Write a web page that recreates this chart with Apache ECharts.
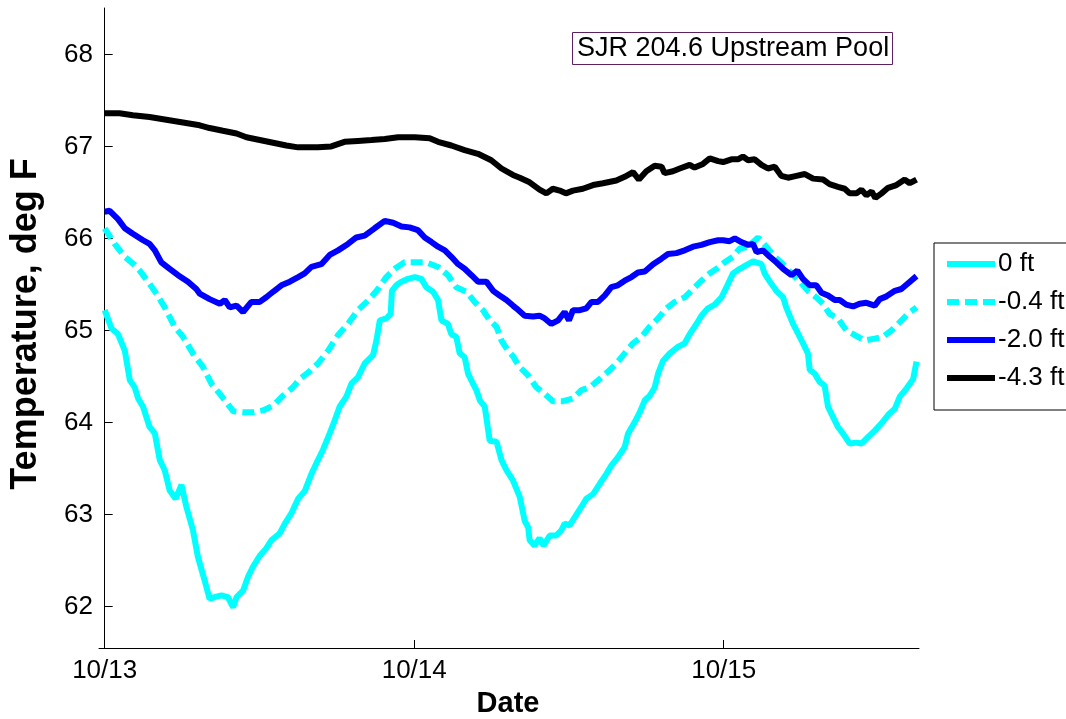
<!DOCTYPE html>
<html>
<head>
<meta charset="utf-8">
<script src="https://cdn.jsdelivr.net/npm/echarts@6/dist/echarts.min.js"></script>
<style>
html,body{margin:0;padding:0;background:#fff;}
#chart{width:1066px;height:719px;}
</style>
</head>
<body>
<div id="chart"></div>
<script>
// Time in days since 10/13 00:00
const xTickValues = [0, 1, 2];
const xTickLabels = ['10/13', '10/14', '10/15'];
const yTickValues = [62, 63, 64, 65, 66, 67, 68];
const seriesNames = ['0 ft', '-0.4 ft', '-2.0 ft', '-4.3 ft'];

const t0ft = [0.000,0.022,0.043,0.065,0.081,0.097,0.108,0.124,0.145,0.162,0.178,0.194,0.210,0.229,0.248,0.264,0.285,0.301,0.323,0.339,0.355,0.377,0.398,0.415,0.426,0.447,0.463,0.479,0.501,0.522,0.539,0.565,0.582,0.603,0.625,0.646,0.668,0.689,0.705,0.727,0.743,0.759,0.781,0.797,0.818,0.840,0.867,0.878,0.889,0.910,0.924,0.928,0.942,0.959,0.980,1.002,1.023,1.039,1.061,1.077,1.088,1.109,1.120,1.136,1.147,1.163,1.174,1.190,1.201,1.212,1.228,1.244,1.266,1.282,1.298,1.319,1.341,1.357,1.368,1.373,1.389,1.405,1.418,1.438,1.459,1.476,1.486,1.502,1.519,1.540,1.556,1.578,1.599,1.621,1.637,1.658,1.680,1.691,1.712,1.729,1.745,1.761,1.777,1.788,1.804,1.826,1.852,1.874,1.890,1.912,1.928,1.949,1.971,1.993,2.009,2.030,2.052,2.073,2.095,2.122,2.132,2.149,2.170,2.192,2.202,2.224,2.235,2.256,2.272,2.278,2.294,2.310,2.326,2.337,2.353,2.369,2.385,2.407,2.429,2.445,2.466,2.488,2.510,2.531,2.553,2.569,2.591,2.612,2.623];
const v0ft = [65.22,65.02,64.96,64.78,64.46,64.38,64.26,64.17,63.95,63.88,63.59,63.48,63.26,63.17,63.32,63.08,62.83,62.54,62.28,62.08,62.10,62.12,62.10,61.99,62.10,62.17,62.32,62.43,62.55,62.63,62.72,62.79,62.90,63.01,63.17,63.25,63.44,63.59,63.70,63.88,64.02,64.17,64.28,64.42,64.49,64.64,64.73,64.89,65.11,65.13,65.18,65.43,65.49,65.53,65.56,65.58,65.56,65.47,65.42,65.33,65.11,65.07,64.96,64.93,64.75,64.71,64.53,64.42,64.35,64.24,64.17,63.80,63.79,63.59,63.48,63.37,63.19,62.93,62.86,62.72,62.66,62.74,62.66,62.77,62.77,62.83,62.90,62.88,62.97,63.08,63.17,63.22,63.33,63.44,63.53,63.62,63.73,63.88,64.00,64.11,64.24,64.29,64.38,64.53,64.67,64.75,64.82,64.86,64.96,65.07,65.16,65.24,65.28,65.36,65.47,65.62,65.67,65.71,65.75,65.72,65.62,65.53,65.43,65.36,65.25,65.07,65.00,64.86,64.75,64.57,64.53,64.44,64.40,64.17,64.06,63.95,63.88,63.77,63.78,63.77,63.84,63.91,63.99,64.08,64.15,64.28,64.37,64.47,64.66];

const t04ft = [0.000,0.032,0.065,0.097,0.113,0.140,0.167,0.194,0.226,0.253,0.285,0.318,0.345,0.372,0.393,0.415,0.447,0.479,0.511,0.544,0.576,0.608,0.630,0.657,0.689,0.722,0.754,0.786,0.818,0.856,0.883,0.910,0.937,0.969,1.002,1.039,1.077,1.109,1.136,1.169,1.195,1.222,1.244,1.266,1.282,1.303,1.319,1.341,1.368,1.395,1.422,1.448,1.481,1.513,1.540,1.567,1.599,1.632,1.653,1.680,1.707,1.734,1.761,1.788,1.815,1.842,1.874,1.901,1.928,1.955,1.982,2.003,2.030,2.052,2.079,2.111,2.138,2.165,2.192,2.219,2.246,2.272,2.299,2.321,2.342,2.369,2.396,2.423,2.456,2.488,2.515,2.542,2.569,2.595,2.623];
const v04ft = [66.11,65.94,65.80,65.71,65.65,65.53,65.40,65.25,65.04,64.93,64.75,64.60,64.42,64.31,64.22,64.12,64.11,64.11,64.13,64.18,64.29,64.38,64.47,64.54,64.64,64.78,64.95,65.07,65.22,65.34,65.45,65.58,65.67,65.74,65.74,65.74,65.69,65.60,65.47,65.42,65.31,65.22,65.11,65.04,64.89,64.78,64.72,64.60,64.51,64.38,64.31,64.23,64.23,64.26,64.35,64.38,64.47,64.57,64.64,64.75,64.86,64.93,65.04,65.13,65.24,65.31,65.36,65.45,65.54,65.62,65.68,65.74,65.80,65.89,65.91,66.01,65.91,65.80,65.72,65.62,65.53,65.43,65.36,65.29,65.18,65.13,65.00,64.95,64.89,64.91,64.93,65.00,65.09,65.18,65.25];

const t20ft = [0.000,0.016,0.043,0.065,0.091,0.124,0.145,0.162,0.183,0.210,0.237,0.269,0.296,0.307,0.339,0.372,0.388,0.404,0.426,0.447,0.474,0.501,0.522,0.544,0.571,0.598,0.625,0.646,0.668,0.700,0.727,0.754,0.786,0.813,0.840,0.872,0.905,0.932,0.959,0.985,1.012,1.034,1.056,1.077,1.099,1.120,1.142,1.163,1.185,1.206,1.233,1.255,1.276,1.298,1.319,1.330,1.357,1.384,1.405,1.422,1.443,1.465,1.486,1.500,1.513,1.535,1.556,1.573,1.594,1.616,1.637,1.658,1.680,1.702,1.723,1.745,1.772,1.799,1.820,1.847,1.874,1.901,1.928,1.955,1.982,1.998,2.019,2.036,2.057,2.079,2.095,2.106,2.127,2.149,2.170,2.192,2.219,2.238,2.256,2.278,2.299,2.316,2.337,2.359,2.375,2.396,2.418,2.439,2.461,2.488,2.504,2.526,2.553,2.574,2.595,2.623];
const v20ft = [66.29,66.30,66.21,66.11,66.05,65.98,65.94,65.87,65.74,65.67,65.60,65.53,65.45,65.40,65.34,65.29,65.33,65.25,65.27,65.20,65.31,65.31,65.36,65.42,65.49,65.53,65.58,65.62,65.69,65.72,65.82,65.87,65.94,66.01,66.03,66.11,66.19,66.17,66.13,66.12,66.09,66.01,65.96,65.91,65.87,65.80,65.72,65.67,65.60,65.53,65.53,65.43,65.38,65.33,65.27,65.24,65.16,65.15,65.16,65.13,65.07,65.11,65.20,65.11,65.22,65.22,65.24,65.31,65.31,65.38,65.47,65.49,65.54,65.58,65.63,65.64,65.72,65.78,65.83,65.84,65.87,65.91,65.93,65.96,65.98,65.98,65.97,66.00,65.96,65.93,65.94,65.85,65.87,65.80,65.74,65.67,65.60,65.65,65.56,65.49,65.49,65.41,65.38,65.33,65.33,65.28,65.26,65.29,65.30,65.27,65.34,65.37,65.43,65.45,65.51,65.59];

const t43ft = [0.000,0.048,0.091,0.145,0.199,0.253,0.307,0.339,0.382,0.426,0.458,0.501,0.544,0.587,0.625,0.689,0.732,0.775,0.818,0.862,0.905,0.948,1.002,1.050,1.077,1.120,1.163,1.206,1.249,1.282,1.319,1.341,1.373,1.405,1.427,1.448,1.470,1.490,1.513,1.545,1.578,1.610,1.653,1.680,1.707,1.726,1.750,1.777,1.799,1.809,1.836,1.858,1.890,1.906,1.933,1.955,1.982,1.998,2.025,2.046,2.062,2.079,2.100,2.122,2.143,2.165,2.186,2.208,2.235,2.262,2.289,2.321,2.342,2.369,2.391,2.407,2.429,2.445,2.461,2.478,2.490,2.510,2.531,2.558,2.585,2.601,2.623];
const v43ft = [67.36,67.36,67.34,67.32,67.29,67.26,67.23,67.20,67.17,67.14,67.10,67.07,67.04,67.01,66.99,66.99,67.00,67.05,67.06,67.07,67.08,67.10,67.10,67.09,67.05,67.01,66.96,66.92,66.85,66.76,66.69,66.66,66.61,66.53,66.49,66.54,66.52,66.49,66.52,66.54,66.58,66.60,66.63,66.67,66.72,66.64,66.73,66.79,66.78,66.71,66.73,66.76,66.80,66.77,66.81,66.87,66.84,66.83,66.86,66.86,66.89,66.85,66.86,66.80,66.76,66.78,66.68,66.66,66.68,66.70,66.65,66.64,66.59,66.56,66.54,66.49,66.49,66.53,66.47,66.51,66.44,66.49,66.55,66.58,66.64,66.60,66.64];

function pairs(t, v) { return t.map((x, i) => [x, v[i]]); }

const FONT = '"Liberation Sans", Arial, sans-serif';
const chart = echarts.init(document.getElementById('chart'), null, {renderer: 'canvas'});

const lineSeries = (name, t, v, color, type) => ({
  name: name,
  type: 'line',
  data: pairs(t, v),
  symbol: 'none',
  showSymbol: false,
  smooth: false,
  animation: false,
  clip: true,
  lineStyle: {color: color, width: 6, type: type},
  itemStyle: {color: color}
});

chart.setOption({
  backgroundColor: '#ffffff',
  animation: false,
  title: {
    text: 'SJR 204.6 Upstream Pool',
    left: 572,
    top: 32,
    padding: [2, 4, 2, 5],
    borderColor: '#5e2060',
    borderWidth: 1,
    backgroundColor: '#ffffff',
    textStyle: {fontFamily: FONT, fontSize: 27, fontWeight: 'normal', color: '#000', lineHeight: 29}
  },
  legend: {
    orient: 'vertical',
    left: 934,
    top: 243,
    padding: [8, 10, 19, 10],
    itemWidth: 48,
    itemHeight: 26,
    itemGap: 12,
    selectedMode: false,
    borderColor: '#000',
    borderWidth: 1,
    backgroundColor: '#fff',
    itemStyle: {opacity: 0},
    lineStyle: {width: 6},
    textStyle: {fontFamily: FONT, fontSize: 26, color: '#000', lineHeight: 26, padding: [0, 0, 0, -2]},
    data: seriesNames
  },
  grid: {left: 99, right: 147, top: 8, bottom: 71, containLabel: false},
  xAxis: {
    type: 'value',
    min: -0.0184,
    max: 2.631,
    axisLine: {show: true, lineStyle: {color: '#000', width: 1}},
    axisTick: {show: true, inside: true, length: 8, customValues: xTickValues, lineStyle: {color: '#000'}},
    axisLabel: {
      customValues: xTickValues,
      formatter: v => xTickLabels[xTickValues.indexOf(Math.round(v))],
      fontFamily: FONT, fontSize: 26, color: '#000', margin: 10
    },
    splitLine: {show: false}
  },
  yAxis: {
    type: 'value',
    min: 61.547,
    max: 68.505,
    axisLine: {show: true, lineStyle: {color: '#000', width: 1}},
    axisTick: {show: true, inside: true, length: 8, customValues: yTickValues, lineStyle: {color: '#000'}},
    axisLabel: {
      customValues: yTickValues,
      formatter: v => String(Math.round(v)),
      fontFamily: FONT, fontSize: 26, color: '#000', margin: 6
    },
    splitLine: {show: false}
  },
  graphic: [
    {
      type: 'text',
      x: 26, y: 324,
      rotation: Math.PI / 2,
      style: {text: 'Temperature, deg F', fontFamily: FONT, fontSize: 36, fontWeight: 'bold', fill: '#000', align: 'center', verticalAlign: 'middle'}
    },
    {
      type: 'text',
      x: 508, y: 704,
      style: {text: 'Date', fontFamily: FONT, fontSize: 29, fontWeight: 'bold', fill: '#000', align: 'center', verticalAlign: 'middle'}
    }
  ],
  series: [
    lineSeries(seriesNames[0], t0ft, v0ft, '#00ffff', 'solid'),
    lineSeries(seriesNames[1], t04ft, v04ft, '#00ffff', [12, 6]),
    lineSeries(seriesNames[2], t20ft, v20ft, '#0000ff', 'solid'),
    lineSeries(seriesNames[3], t43ft, v43ft, '#000000', 'solid')
  ]
});
</script>
</body>
</html>
